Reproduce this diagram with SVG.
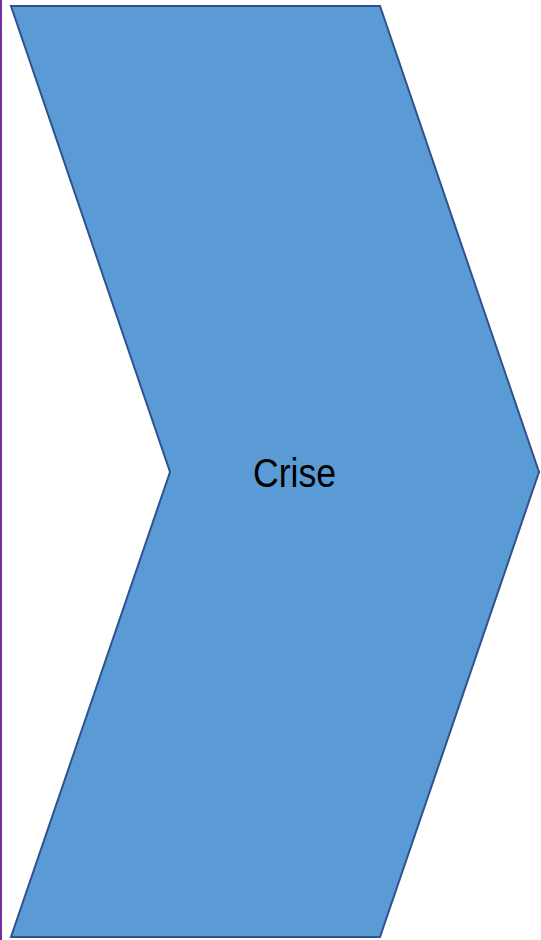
<svg xmlns="http://www.w3.org/2000/svg" width="541" height="940" viewBox="0 0 541 940">
<style>
.shape{fill:#5B9BD5;stroke:#2F528F;stroke-width:2;stroke-linejoin:miter}
.lbl{font-family:"Liberation Sans",Arial,sans-serif;font-size:40px;fill:#000}
</style>
<rect width="541" height="940" fill="#fff"/>
<line x1="1" y1="0" x2="1" y2="940" stroke="#7030A0" stroke-width="2"/>
<g id="crise">
<polygon class="shape" points="11,6 380,6 539,472 380,937 11,937 170,472"/>
<text class="lbl" x="294.5" y="487" text-anchor="middle" textLength="83" lengthAdjust="spacingAndGlyphs">Crise</text>
</g>
</svg>
